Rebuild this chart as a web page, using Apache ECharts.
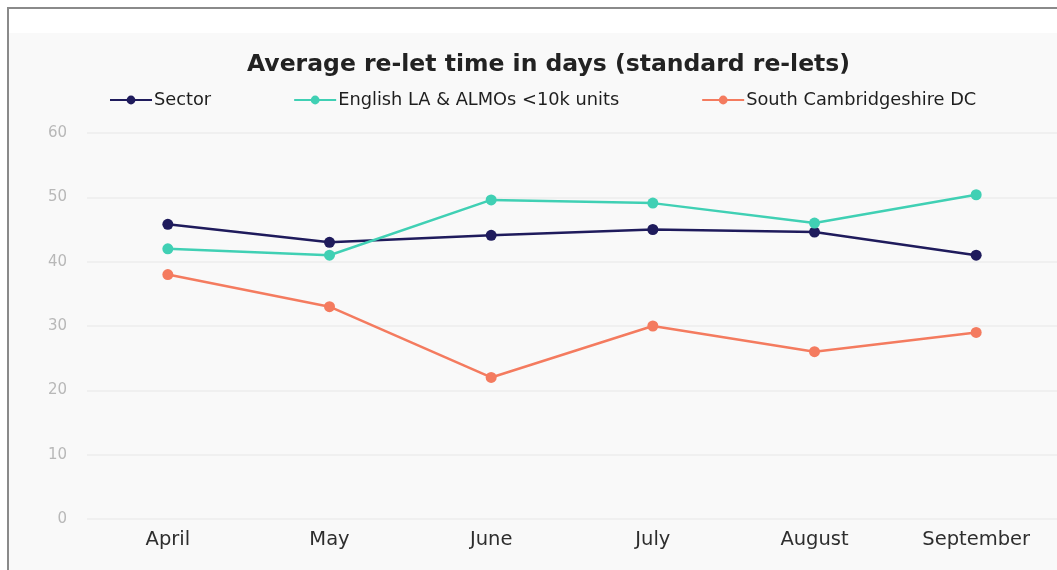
<!DOCTYPE html>
<html>
<head>
<meta charset="utf-8">
<style>
  html, body { margin: 0; padding: 0; background: #ffffff; }
  #wrap { position: relative; width: 1057px; height: 570px; overflow: hidden; }
  #bg { position: absolute; left: 8px; top: 33px; right: 0; bottom: 0; background: #f9f9f9; }
  #frame { position: absolute; left: 7px; top: 7px; width: 1100px; height: 600px;
           border-left: 2px solid #8a8a8a; border-top: 2px solid #8a8a8a; pointer-events: none; }
  #chart { position: absolute; left: 0; top: 0; width: 1057px; height: 570px; }
</style>
<script src="https://cdn.jsdelivr.net/npm/echarts@6/dist/echarts.min.js"></script>
</head>
<body>
<div id="wrap">
  <div id="bg"></div>
  <div id="chart"></div>
  <div id="frame"></div>
</div>
<script>
// 数据
const months = ['April', 'May', 'June', 'July', 'August', 'September']
const sectorData = [45.8, 43, 44.1, 45, 44.6, 41]
const englishData = [42, 41, 49.6, 49.1, 46, 50.4]
const southCambsData = [38, 33, 22, 30, 26, 29]
const yTicks = [0, 10, 20, 30, 40, 50, 60]

const fontFamily = '"DejaVu Sans", "Noto Sans", sans-serif'

const chart = echarts.init(document.getElementById('chart'))

const makeSeries = (name, data, color) => ({
  name,
  type: 'line',
  data,
  symbol: 'circle',
  symbolSize: 11,
  lineStyle: { color, width: 2.5 },
  itemStyle: { color },
  animation: false
})

chart.setOption({
  backgroundColor: 'transparent',
  textStyle: { fontFamily },
  title: {
    text: 'Average re-let time in days (standard re-lets)',
    left: 242,
    top: 48,
    textStyle: { fontSize: 23.5, fontWeight: 'bold', color: '#222222', fontFamily }
  },
  legend: {
    top: 86,
    left: 104,
    itemGap: 82,
    itemWidth: 42,
    itemHeight: 11,
    textStyle: { fontSize: 17.8, color: '#1e1e1e', fontFamily, padding: [0, 0, 0, -3] },
    data: ['Sector', 'English LA & ALMOs <10k units', 'South Cambridgeshire DC']
  },
  grid: { left: 87, right: 0, top: 133, bottom: 51 },
  xAxis: {
    type: 'category',
    data: months,
    axisLine: { show: false },
    axisTick: { show: false },
    axisLabel: { fontSize: 19.5, color: '#2e2e2e', margin: 11, fontFamily }
  },
  yAxis: {
    type: 'value',
    min: yTicks[0],
    max: yTicks[yTicks.length - 1],
    interval: 10,
    axisLine: { show: false },
    axisTick: { show: false },
    axisLabel: { fontSize: 15, color: '#b8b8b8', margin: 20, fontFamily },
    splitLine: { lineStyle: { color: '#ececec', width: 1.5 } }
  },
  series: [
    makeSeries('Sector', sectorData, '#1f1b5c'),
    makeSeries('English LA & ALMOs <10k units', englishData, '#40d0b4'),
    makeSeries('South Cambridgeshire DC', southCambsData, '#f47b5f')
  ]
})
</script>
</body>
</html>
